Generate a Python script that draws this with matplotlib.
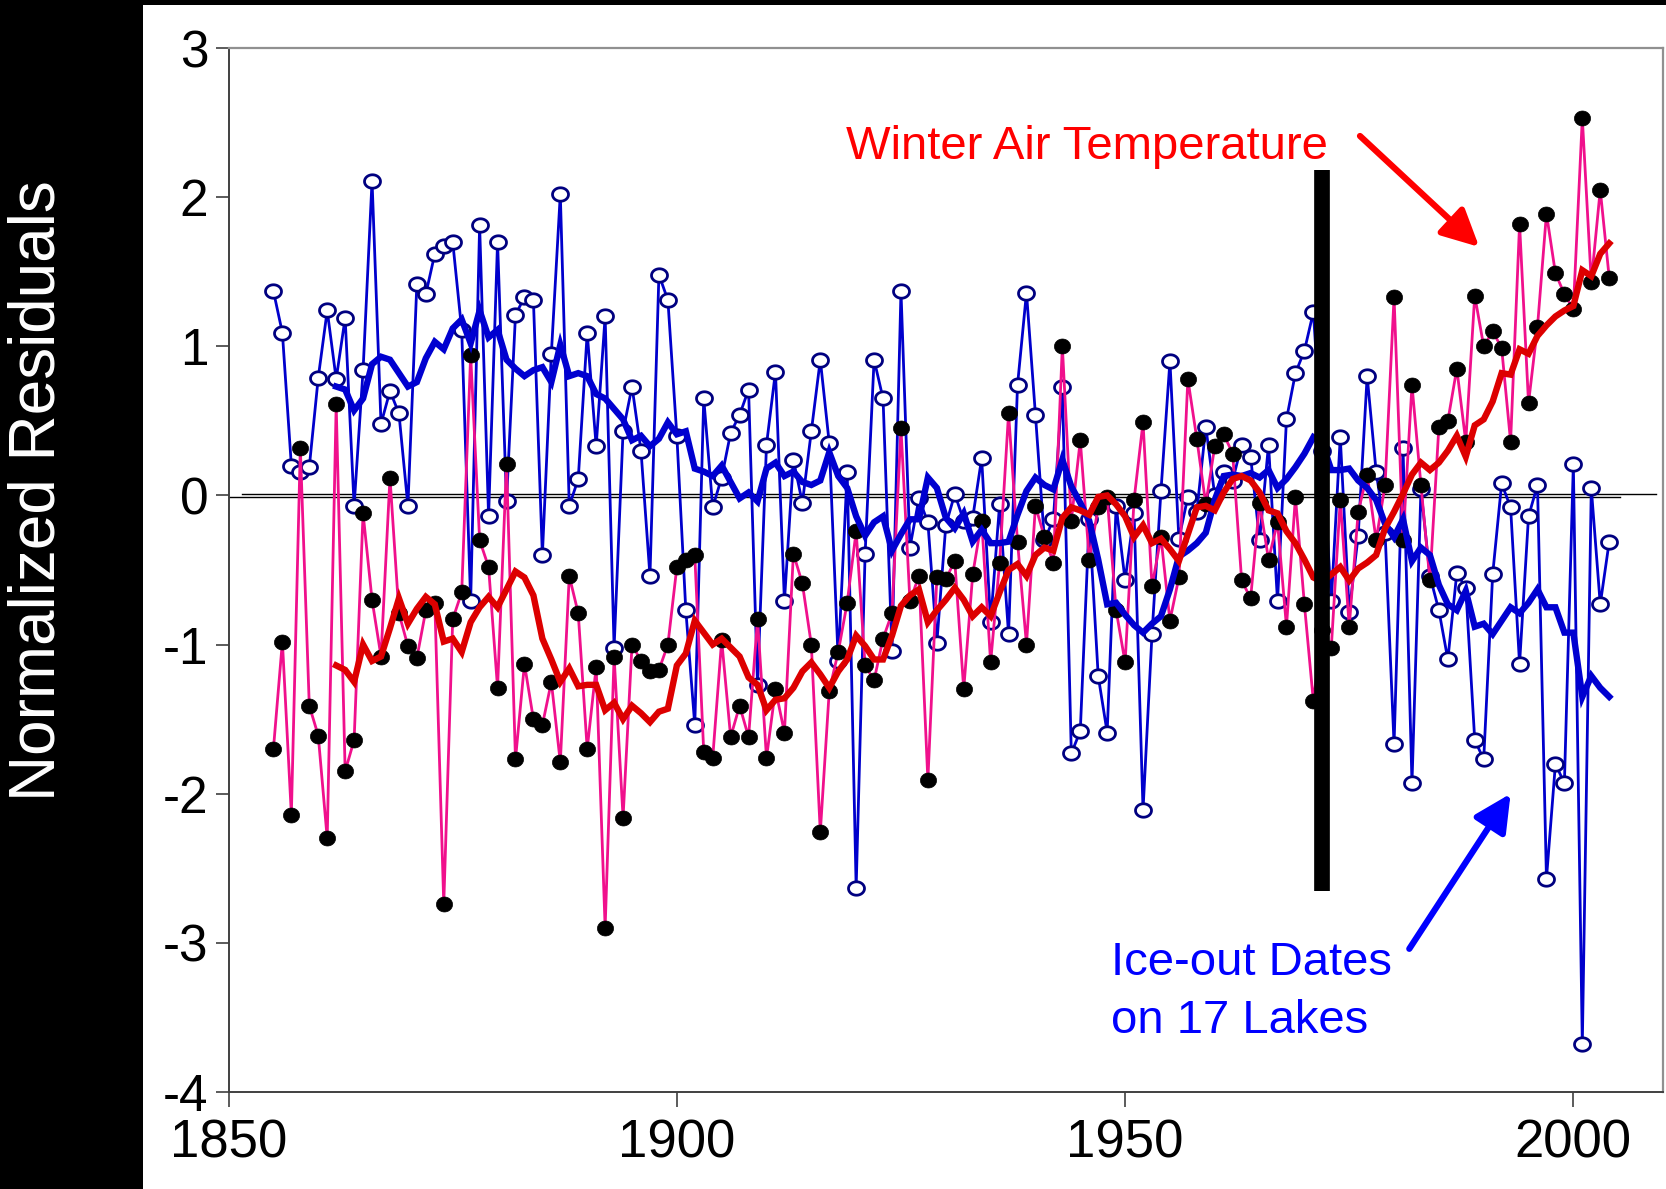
import numpy as np
import matplotlib
matplotlib.use("Agg")
import matplotlib.pyplot as plt
from matplotlib.path import Path
from matplotlib.patches import Rectangle

plt.rcParams['font.family'] = ['Liberation Sans', 'DejaVu Sans']
plt.rcParams['axes.unicode_minus'] = False

# ---------------- data ----------------
years = np.arange(1855, 2005)
smooth_years = np.arange(1862, 2005)

ice_out = [
    1.37, 1.09, 0.20, 0.16, 0.19, 0.79, 1.24, 0.78, 1.19, -0.07,
    0.84, 2.11, 0.48, 0.70, 0.55, -0.07, 1.42, 1.35, 1.62, 1.67,
    1.70, 1.11, -0.71, 1.81, -0.14, 1.70, -0.04, 1.21, 1.33, 1.31,
    -0.40, 0.95, 2.02, -0.07, 0.11, 1.09, 0.33, 1.20, -1.02, 0.43,
    0.73, 0.30, -0.54, 1.48, 1.31, 0.40, -0.77, -1.54, 0.65, -0.08,
    0.12, 0.42, 0.54, 0.71, -1.27, 0.34, 0.83, -0.71, 0.24, -0.05,
    0.43, 0.91, 0.35, -1.11, 0.16, -2.63, -0.39, 0.91, 0.65, -1.04,
    1.37, -0.35, -0.02, -0.18, -0.99, -0.20, 0.01, -0.17, -0.15, 0.25,
    -0.85, -0.06, -0.93, 0.74, 1.36, 0.54, -0.30, -0.16, 0.73, -1.73,
    -1.58, -0.16, -1.21, -1.59, -0.07, -0.57, -0.12, -2.11, -0.93, 0.03,
    0.90, -0.29, -0.01, -0.11, 0.46, 0.00, 0.16, 0.10, 0.34, 0.26,
    -0.30, 0.34, -0.71, 0.51, 0.82, 0.97, 1.23, 0.30, -0.71, 0.39,
    -0.78, -0.27, 0.80, 0.16, -0.25, -1.67, 0.32, -1.93, 0.04, -0.54,
    -0.77, -1.10, -0.52, -0.62, -1.64, -1.77, -0.53, 0.08, -0.08, -1.13,
    -0.14, 0.07, -2.57, -1.80, -1.93, 0.21, -3.68, 0.05, -0.73, -0.31,
]

air_temp = [
    -1.70, -0.98, -2.14, 0.32, -1.41, -1.61, -2.30, 0.61, -1.85, -1.64,
    -0.12, -0.70, -1.08, 0.12, -0.79, -1.01, -1.09, -0.77, -0.72, -2.74,
    -0.83, -0.65, 0.94, -0.30, -0.48, -1.29, 0.21, -1.77, -1.13, -1.50,
    -1.54, -1.25, -1.79, -0.54, -0.79, -1.70, -1.15, -2.90, -1.08, -2.16,
    -1.00, -1.11, -1.18, -1.17, -1.00, -0.48, -0.43, -0.40, -1.72, -1.76,
    -0.97, -1.62, -1.41, -1.62, -0.83, -1.76, -1.30, -1.59, -0.39, -0.59,
    -1.00, -2.26, -1.31, -1.05, -0.72, -0.24, -1.14, -1.24, -0.96, -0.79,
    0.45, -0.71, -0.54, -1.91, -0.55, -0.56, -0.44, -1.30, -0.53, -0.17,
    -1.12, -0.45, 0.55, -0.31, -1.00, -0.07, -0.28, -0.45, 1.00, -0.17,
    0.37, -0.43, -0.08, -0.01, -0.77, -1.12, -0.03, 0.49, -0.61, -0.28,
    -0.84, -0.55, 0.78, 0.38, -0.06, 0.33, 0.41, 0.28, -0.57, -0.69,
    -0.05, -0.43, -0.18, -0.88, -0.01, -0.73, -1.38, -0.90, -1.02, -0.03,
    -0.88, -0.11, 0.14, -0.30, 0.07, 1.33, -0.30, 0.74, 0.07, -0.57,
    0.46, 0.50, 0.85, 0.36, 1.34, 1.00, 1.10, 0.99, 0.36, 1.82,
    0.62, 1.13, 1.89, 1.49, 1.35, 1.25, 2.53, 1.43, 2.05, 1.46,
]

air_smooth = [
    -1.14, -1.17, -1.25, -1.00, -1.11, -1.08, -0.89, -0.69, -0.86, -0.76,
    -0.68, -0.73, -0.98, -0.96, -1.05, -0.85, -0.75, -0.68, -0.75, -0.63,
    -0.51, -0.55, -0.67, -0.96, -1.10, -1.25, -1.16, -1.28, -1.27, -1.27,
    -1.44, -1.39, -1.50, -1.41, -1.46, -1.52, -1.45, -1.43, -1.14, -1.06,
    -0.84, -0.92, -1.00, -0.96, -1.02, -1.08, -1.22, -1.27, -1.44, -1.37,
    -1.36, -1.29, -1.18, -1.12, -1.20, -1.29, -1.18, -1.10, -0.94, -1.01,
    -1.10, -1.10, -0.94, -0.74, -0.67, -0.63, -0.85, -0.77, -0.70, -0.62,
    -0.70, -0.81, -0.75, -0.81, -0.65, -0.50, -0.46, -0.54, -0.40, -0.35,
    -0.37, -0.15, -0.08, -0.10, -0.13, -0.01, 0.00, -0.06, -0.14, -0.28,
    -0.20, -0.32, -0.29, -0.36, -0.44, -0.26, -0.08, -0.07, -0.10, 0.02,
    0.11, 0.13, 0.10, 0.02, -0.10, -0.12, -0.24, -0.32, -0.43, -0.55,
    -0.58, -0.53, -0.48, -0.57, -0.49, -0.45, -0.40, -0.22, -0.11, 0.01,
    0.14, 0.22, 0.17, 0.22, 0.30, 0.40, 0.26, 0.47, 0.51, 0.63,
    0.82, 0.81, 0.98, 0.95, 1.07, 1.14, 1.20, 1.24, 1.27, 1.51,
    1.47, 1.62, 1.69,
]

ice_smooth = [
    0.73, 0.71, 0.57, 0.65, 0.88, 0.93, 0.91, 0.82, 0.73, 0.76,
    0.92, 1.03, 0.98, 1.12, 1.18, 1.02, 1.24, 1.06, 1.11, 0.91,
    0.85, 0.80, 0.84, 0.86, 0.76, 1.01, 0.80, 0.82, 0.80, 0.68,
    0.65, 0.58, 0.51, 0.37, 0.40, 0.33, 0.38, 0.49, 0.41, 0.43,
    0.18, 0.16, 0.13, 0.20, 0.09, -0.02, 0.02, -0.04, 0.18, 0.22,
    0.13, 0.16, 0.09, 0.07, 0.10, 0.29, 0.13, 0.05, -0.14, -0.27,
    -0.18, -0.14, -0.37, -0.26, -0.16, -0.16, 0.12, 0.05, -0.15, -0.22,
    -0.12, -0.31, -0.23, -0.32, -0.32, -0.31, -0.13, 0.03, 0.12, 0.07,
    0.04, 0.24, 0.06, -0.05, -0.17, -0.43, -0.73, -0.72, -0.80, -0.87,
    -0.92, -0.86, -0.81, -0.63, -0.41, -0.37, -0.32, -0.25, -0.03, 0.13,
    0.14, 0.13, 0.15, 0.12, 0.17, 0.05, 0.11, 0.19, 0.28, 0.39,
    0.35, 0.17, 0.17, 0.18, 0.10, 0.05, -0.03, -0.19, -0.28, -0.16,
    -0.44, -0.35, -0.40, -0.60, -0.73, -0.77, -0.64, -0.88, -0.86, -0.93,
    -0.84, -0.75, -0.79, -0.72, -0.63, -0.75, -0.75, -0.92, -0.92, -1.35,
    -1.21, -1.29, -1.35,
]

x_ticks = [1850, 1900, 1950, 2000]
y_ticks = [-4, -3, -2, -1, 0, 1, 2, 3]
divider_year = 1972
divider_range = (-2.65, 2.18)

# ---------------- figure ----------------
W, H = 1666, 1189
fig = plt.figure(figsize=(W / 100, H / 100), dpi=100)
fig.patch.set_facecolor('white')

# black bands (left strip and top strip)
fig.add_artist(Rectangle((0, 0), 143 / W, 1, transform=fig.transFigure,
                         facecolor='black', edgecolor='none', zorder=0))
fig.add_artist(Rectangle((0, 1 - 5 / H), 1, 5 / H, transform=fig.transFigure,
                         facecolor='black', edgecolor='none', zorder=0))

ax_left, ax_right = 228.6, 1663.0
ax_top, ax_bottom = 48.0, 1092.0
ax = fig.add_axes([ax_left / W, (H - ax_bottom) / H,
                   (ax_right - ax_left) / W, (ax_bottom - ax_top) / H])
ax.set_xlim(1850, 2010)
ax.set_ylim(-4, 3)

# elliptical marker paths
t = np.linspace(0, 2 * np.pi, 64)
open_marker = Path(np.column_stack([np.cos(t), 0.84 * np.sin(t)]), closed=True)
fill_marker = Path(np.column_stack([np.cos(t), 0.93 * np.sin(t)]), closed=True)

# zero line(s)
ax.axhline(0.009, xmin=0.009, xmax=0.995, color='black', lw=1.0, zorder=1)
ax.axhline(-0.009, xmin=0.0, xmax=0.97, color='black', lw=1.0, zorder=1)

# raw series
ax.plot(years, ice_out, color='#0000CC', lw=2.0, zorder=2,
        marker=open_marker, ms=11.5, mfc='white', mec='#000080', mew=2.0)
ax.plot(years, air_temp, color='#F0108C', lw=2.0, zorder=3,
        marker=fill_marker, ms=11.6, mfc='black', mec='black', mew=0.5)

# smoothed series
ax.plot(smooth_years, ice_smooth, color='#0000D0', lw=4.6, zorder=4,
        solid_joinstyle='miter')
ax.plot(smooth_years, air_smooth, color='#DD0000', lw=4.6, zorder=5,
        solid_joinstyle='miter')

# vertical divider bar
ax.vlines(divider_year, divider_range[0], divider_range[1], color='black',
          lw=11.3, zorder=6)

# annotations
ax.text(1918.85, 2.253, 'Winter Air Temperature', color='#FF0000',
        fontsize=34, ha='left', va='baseline', zorder=7)
ax.text(1948.4, -3.214, 'Ice-out Dates', color='#0000FF',
        fontsize=34, ha='left', va='baseline', zorder=7)
ax.text(1948.4, -3.603, 'on 17 Lakes', color='#0000FF',
        fontsize=34, ha='left', va='baseline', zorder=7)

ax.annotate('', xy=(1989.5, 1.666), xytext=(1976.2, 2.41),
            arrowprops=dict(arrowstyle='-|>,head_length=0.7,head_width=0.35',
                            mutation_scale=32, lw=4.5, color='#FF0000',
                            shrinkA=0, shrinkB=0), zorder=7)
ax.annotate('', xy=(1993.0, -2.0), xytext=(1981.7, -3.04),
            arrowprops=dict(arrowstyle='-|>,head_length=0.7,head_width=0.35',
                            mutation_scale=32, lw=4.5, color='#0000FF',
                            shrinkA=0, shrinkB=0), zorder=7)

# axes styling
ax.set_xticks(x_ticks)
ax.set_yticks(y_ticks)
ax.set_xticklabels([str(v) for v in x_ticks])
ax.set_yticklabels([str(v) for v in y_ticks])
ax.tick_params(axis='y', direction='out', length=9.5, width=1.2,
               labelsize=37, pad=5, colors='#404040', labelcolor='black')
ax.tick_params(axis='x', direction='out', length=11, width=1.2,
               labelsize=38, pad=8, colors='#404040', labelcolor='black')
for side in ('left', 'bottom'):
    ax.spines[side].set_color('#404040')
    ax.spines[side].set_linewidth(1.4)
for side in ('top', 'right'):
    ax.spines[side].set_color('#909090')
    ax.spines[side].set_linewidth(1.6)

fig.text(38 / W, 0.587, 'Normalized Residuals', rotation=90, color='white',
         fontsize=46, ha='center', va='center')

fig.savefig('out.png', dpi=100, facecolor='white')
